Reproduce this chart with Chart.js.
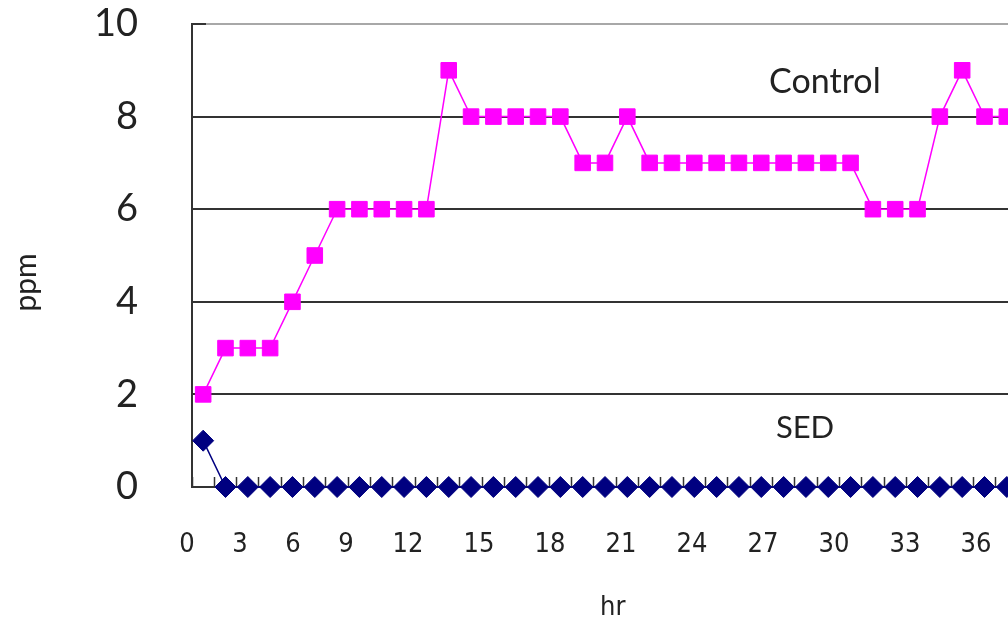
<!DOCTYPE html>
<html>
<head>
<meta charset="utf-8">
<script src="https://cdn.jsdelivr.net/npm/chart.js@4.4.1/dist/chart.umd.min.js"></script>
<style>
  html, body { margin: 0; padding: 0; background: #fff; overflow: hidden; }
  #wrap { position: relative; width: 1030px; height: 624px; }
</style>
</head>
<body>
<div id="wrap"><canvas id="ppmChart"></canvas></div>
<script>
// one sample per hour
const samples = ['1', '2', '3', '4', '5', '6', '7', '8', '9', '10', '11', '12', '13',
  '14', '15', '16', '17', '18', '19', '20', '21', '22', '23', '24', '25', '26',
  '27', '28', '29', '30', '31', '32', '33', '34', '35', '36', '37'];

const controlPpm = [2, 3, 3, 3, 4, 5, 6, 6, 6, 6, 6, 9, 8, 8, 8, 8, 8, 7, 7, 8, 7,
  7, 7, 7, 7, 7, 7, 7, 7, 7, 6, 6, 6, 8, 9, 8, 8];
const sedPpm = [1, 0, 0, 0, 0, 0, 0, 0, 0, 0, 0, 0, 0, 0, 0, 0, 0, 0, 0, 0, 0,
  0, 0, 0, 0, 0, 0, 0, 0, 0, 0, 0, 0, 0, 0, 0, 0];

const hourLabels = ['0', '3', '6', '9', '12', '15', '18', '21', '24', '27', '30', '33', '36'];

const inkColor = '#222';
const gridDark = '#333';
const narrowFont = "'Liberation Sans Narrow', 'DejaVu Sans Condensed', sans-serif";

// series names written inside the plot, placed in data units
const seriesTags = [
  { text: 'Control', at: 27.85, value: 8.75, size: 34 },
  { text: 'SED', at: 26.96, value: 1.27, size: 31 },
];

const seriesTagPlugin = {
  id: 'seriesTags',
  afterDatasetsDraw(chart) {
    const { ctx, scales } = chart;
    ctx.save();
    ctx.fillStyle = inkColor;
    ctx.textAlign = 'center';
    ctx.textBaseline = 'middle';
    seriesTags.forEach(t => {
      ctx.font = t.size + 'px Lato, sans-serif';
      ctx.fillText(t.text, scales.x.getPixelForValue(t.at), scales.y.getPixelForValue(t.value));
    });
    ctx.restore();
  }
};

// hour labels are laid out as a flowing row under the axis, like the original export
const hourRowPlugin = {
  id: 'hourRow',
  afterDraw(chart) {
    const { ctx, chartArea } = chart;
    const charW = 18, gap = 35;
    ctx.save();
    ctx.font = '27px ' + narrowFont;
    ctx.fillStyle = inkColor;
    ctx.textAlign = 'center';
    ctx.textBaseline = 'middle';
    let x = chartArea.left - 5 - charW / 2;
    hourLabels.forEach(label => {
      const w = label.length * charW;
      ctx.fillText(label, x + w / 2, chartArea.bottom + 58);
      x += w + gap;
    });
    ctx.restore();
  }
};

new Chart(document.getElementById('ppmChart'), {
  type: 'line',
  data: {
    labels: samples,
    datasets: [
      {
        label: 'Control',
        data: controlPpm,
        borderColor: '#ff00ff',
        backgroundColor: '#ff00ff',
        borderWidth: 1.5,
        pointStyle: 'rect',
        pointRadius: 11,
        pointBorderWidth: 1,
        tension: 0,
        clip: false,
      },
      {
        label: 'SED',
        data: sedPpm,
        borderColor: '#000080',
        backgroundColor: '#000080',
        borderWidth: 1.5,
        pointStyle: 'rectRot',
        pointRadius: 10.5,
        pointBorderWidth: 1,
        tension: 0,
        clip: false,
      },
    ],
  },
  options: {
    responsive: true,
    maintainAspectRatio: false,
    animation: false,
    layout: { padding: { top: 24, right: 12, bottom: 0, left: 0 } },
    plugins: {
      legend: { display: false },
      tooltip: { enabled: false },
    },
    scales: {
      x: {
        type: 'category',
        offset: true,
        grid: {
          display: true,
          offset: true,
          drawOnChartArea: false,
          drawTicks: true,
          tickLength: -10,
          tickColor: gridDark,
          tickWidth: 1.5,
        },
        border: { display: true, color: gridDark, width: 2 },
        ticks: { display: false },
        title: {
          display: true,
          text: '  hr',
          color: inkColor,
          font: { family: narrowFont, size: 27 },
          padding: 0,
        },
        afterFit(scale) {
          scale.height = 137;
          scale.paddingLeft = 0;
          scale.paddingRight = 0;
        },
      },
      y: {
        min: 0,
        max: 10,
        ticks: {
          stepSize: 2,
          color: inkColor,
          padding: 68,
          font: { family: 'Lato', size: 38 },
        },
        grid: {
          color: c => (c.tick && c.tick.value === 10 ? '#a8a8a8' : gridDark),
          lineWidth: 2,
          drawTicks: true,
          tickLength: -14,
          tickColor: gridDark,
          tickWidth: 2,
        },
        border: { color: gridDark, width: 2 },
        title: {
          display: true,
          text: 'ppm       ',
          color: inkColor,
          font: { family: 'Lato', size: 30 },
          padding: { top: 8, bottom: 0 },
        },
        afterFit(scale) {
          scale.width = 192;
          scale.paddingTop = 0;
          scale.paddingBottom = 0;
        },
      },
    },
  },
  plugins: [seriesTagPlugin, hourRowPlugin],
});
</script>
</body>
</html>
